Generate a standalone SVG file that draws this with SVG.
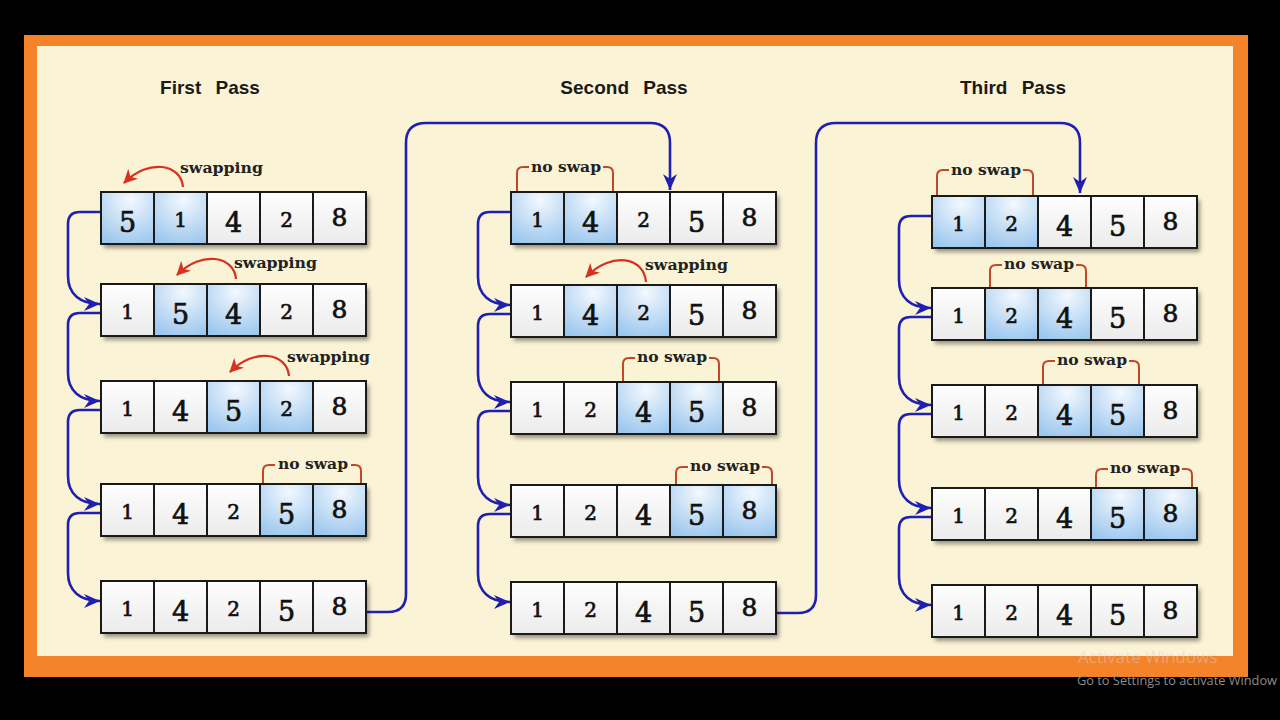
<svg xmlns="http://www.w3.org/2000/svg" width="1280" height="720" viewBox="0 0 1280 720">
<defs>
<style>
.c{fill:url(#gw);stroke:#1a1a1a;stroke-width:2}
.c.h{fill:url(#gb)}
.sh{fill:#fff;filter:url(#ds)}
.n{font-family:"DejaVu Serif","Liberation Serif",serif;fill:#111;stroke:#111;stroke-width:0.7;text-anchor:middle}
.s{font-size:20px}
.m{font-size:27px}
.e{font-size:25px}
.lbl{font-family:"DejaVu Serif","Liberation Serif",serif;font-weight:bold;font-size:15px;fill:#222}
.ttl{font-family:"Liberation Sans",Arial,sans-serif;font-weight:bold;font-size:19px;fill:#1a1a1a;text-anchor:middle;word-spacing:9px}
.red{fill:none;stroke:#d8311f;stroke-width:2.2;marker-end:url(#ra)}
.brk{fill:none;stroke:#c2462a;stroke-width:2}
.blue{fill:none;stroke:#1f1fb2;stroke-width:2.6;marker-end:url(#ba)}
</style>
<linearGradient id="gw" x1="0" y1="0" x2="0" y2="1"><stop offset="0" stop-color="#fefefe"/><stop offset="1" stop-color="#ebebeb"/></linearGradient>
<radialGradient id="gb" cx="0.55" cy="0.15" r="0.9"><stop offset="0" stop-color="#f3f8fe"/><stop offset="1" stop-color="#9cc7ee"/></radialGradient>
<filter id="ds" x="-10%" y="-20%" width="125%" height="150%"><feDropShadow dx="3" dy="4" stdDeviation="2" flood-color="#000" flood-opacity="0.4"/></filter>
<marker id="ra" markerUnits="userSpaceOnUse" markerWidth="16" markerHeight="14" refX="13" refY="7" orient="auto"><path d="M0,0 L14,7 L0,14 L4,7 z" fill="#d8311f"/></marker>
<marker id="ba" markerUnits="userSpaceOnUse" markerWidth="18" markerHeight="14" refX="16" refY="7" orient="auto"><path d="M0,0 L16,7 L0,14 L5,7 z" fill="#1f1fb2"/></marker>
</defs>
<rect width="1280" height="720" fill="#000"/>
<rect x="24" y="35" width="1224" height="642" fill="#f5832a"/>
<rect x="37" y="46" width="1196" height="610" fill="#fbf3d6"/>

<g id="titles">
<text class="ttl" x="210" y="94">First Pass</text>
<text class="ttl" x="624" y="94">Second Pass</text>
<text class="ttl" x="1013" y="94">Third Pass</text>
</g>

<g id="connectors">
<path class="blue" d="M101 212 H80 Q68 212 68 224 V276 C68 294 80 304 100 304"/>
<path class="blue" d="M101 313 H80 Q68 313 68 325 V373 C68 391 80 401 100 401"/>
<path class="blue" d="M101 410 H80 Q68 410 68 422 V476 C68 494 80 504 100 504"/>
<path class="blue" d="M101 513 H80 Q68 513 68 525 V573 C68 591 80 601 100 601"/>
<path class="blue" d="M511 212 H490 Q478 212 478 224 V277 C478 295 490 305 510 305"/>
<path class="blue" d="M511 314 H490 Q478 314 478 326 V374 C478 392 490 402 510 402"/>
<path class="blue" d="M511 411 H490 Q478 411 478 423 V477 C478 495 490 505 510 505"/>
<path class="blue" d="M511 514 H490 Q478 514 478 526 V574 C478 592 490 602 510 602"/>
<path class="blue" d="M932 216 H911 Q899 216 899 228 V280 C899 298 911 308 931 308"/>
<path class="blue" d="M932 317 H911 Q899 317 899 329 V377 C899 395 911 405 931 405"/>
<path class="blue" d="M932 414 H911 Q899 414 899 426 V480 C899 498 911 508 931 508"/>
<path class="blue" d="M932 517 H911 Q899 517 899 529 V577 C899 595 911 605 931 605"/>
<path class="blue" d="M366 612 H388 Q406 612 406 594 V143 Q406 123 426 123 H650 Q670 123 670 143 V190"/>
<path class="blue" d="M776 613 H798 Q816 613 816 595 V143 Q816 123 836 123 H1060 Q1080 123 1080 143 V193"/>
</g>

<!-- First pass -->
<g id="p1r1" transform="translate(101,192)">
<rect class="sh" width="265" height="52"/>
<rect class="c h" x="0" width="53" height="52"/><rect class="c h" x="53" width="53" height="52"/><rect class="c" x="106" width="53" height="52"/><rect class="c" x="159" width="53" height="52"/><rect class="c" x="212" width="53" height="52"/>
<text class="n m" x="26.5" y="40">5</text><text class="n s" x="79.5" y="35">1</text><text class="n m" x="132.5" y="40">4</text><text class="n s" x="185.5" y="35">2</text><text class="n e" x="238.5" y="34">8</text>
<path class="red" d="M82 -5 C80 -28 48 -34 23 -9"/>
<text class="lbl" x="79" y="-19" textLength="83" lengthAdjust="spacingAndGlyphs">swapping</text>
</g>
<g id="p1r2" transform="translate(101,284)">
<rect class="sh" width="265" height="52"/>
<rect class="c" x="0" width="53" height="52"/><rect class="c h" x="53" width="53" height="52"/><rect class="c h" x="106" width="53" height="52"/><rect class="c" x="159" width="53" height="52"/><rect class="c" x="212" width="53" height="52"/>
<text class="n s" x="26.5" y="35">1</text><text class="n m" x="79.5" y="40">5</text><text class="n m" x="132.5" y="40">4</text><text class="n s" x="185.5" y="35">2</text><text class="n e" x="238.5" y="34">8</text>
<path class="red" d="M135 -5 C133 -28 101 -34 76 -9"/>
<text class="lbl" x="133" y="-16" textLength="83" lengthAdjust="spacingAndGlyphs">swapping</text>
</g>
<g id="p1r3" transform="translate(101,381)">
<rect class="sh" width="265" height="52"/>
<rect class="c" x="0" width="53" height="52"/><rect class="c" x="53" width="53" height="52"/><rect class="c h" x="106" width="53" height="52"/><rect class="c h" x="159" width="53" height="52"/><rect class="c" x="212" width="53" height="52"/>
<text class="n s" x="26.5" y="35">1</text><text class="n m" x="79.5" y="40">4</text><text class="n m" x="132.5" y="40">5</text><text class="n s" x="185.5" y="35">2</text><text class="n e" x="238.5" y="34">8</text>
<path class="red" d="M188 -5 C186 -28 154 -34 129 -9"/>
<text class="lbl" x="186" y="-19" textLength="83" lengthAdjust="spacingAndGlyphs">swapping</text>
</g>
<g id="p1r4" transform="translate(101,484)">
<rect class="sh" width="265" height="52"/>
<rect class="c" x="0" width="53" height="52"/><rect class="c" x="53" width="53" height="52"/><rect class="c" x="106" width="53" height="52"/><rect class="c h" x="159" width="53" height="52"/><rect class="c h" x="212" width="53" height="52"/>
<text class="n s" x="26.5" y="35">1</text><text class="n m" x="79.5" y="40">4</text><text class="n s" x="132.5" y="35">2</text><text class="n m" x="185.5" y="40">5</text><text class="n e" x="238.5" y="34">8</text>
<path class="brk" d="M162 -1 V-13 Q162 -19 168 -19 H174 M250 -19 H254 Q260 -19 260 -13 V-1"/>
<text class="lbl" x="177" y="-15" textLength="70" lengthAdjust="spacingAndGlyphs">no swap</text>
</g>
<g id="p1r5" transform="translate(101,581)">
<rect class="sh" width="265" height="52"/>
<rect class="c" x="0" width="53" height="52"/><rect class="c" x="53" width="53" height="52"/><rect class="c" x="106" width="53" height="52"/><rect class="c" x="159" width="53" height="52"/><rect class="c" x="212" width="53" height="52"/>
<text class="n s" x="26.5" y="35">1</text><text class="n m" x="79.5" y="40">4</text><text class="n s" x="132.5" y="35">2</text><text class="n m" x="185.5" y="40">5</text><text class="n e" x="238.5" y="34">8</text>
</g>

<!-- Second pass -->
<g id="p2r1" transform="translate(511,192)">
<rect class="sh" width="265" height="52"/>
<rect class="c h" x="0" width="53" height="52"/><rect class="c h" x="53" width="53" height="52"/><rect class="c" x="106" width="53" height="52"/><rect class="c" x="159" width="53" height="52"/><rect class="c" x="212" width="53" height="52"/>
<text class="n s" x="26.5" y="35">1</text><text class="n m" x="79.5" y="40">4</text><text class="n s" x="132.5" y="35">2</text><text class="n m" x="185.5" y="40">5</text><text class="n e" x="238.5" y="34">8</text>
<path class="brk" d="M6 -1 V-19 Q6 -25 12 -25 H18 M92 -25 H96 Q102 -25 102 -19 V-1"/>
<text class="lbl" x="20" y="-20" textLength="70" lengthAdjust="spacingAndGlyphs">no swap</text>
</g>
<g id="p2r2" transform="translate(511,285)">
<rect class="sh" width="265" height="52"/>
<rect class="c" x="0" width="53" height="52"/><rect class="c h" x="53" width="53" height="52"/><rect class="c h" x="106" width="53" height="52"/><rect class="c" x="159" width="53" height="52"/><rect class="c" x="212" width="53" height="52"/>
<text class="n s" x="26.5" y="35">1</text><text class="n m" x="79.5" y="40">4</text><text class="n s" x="132.5" y="35">2</text><text class="n m" x="185.5" y="40">5</text><text class="n e" x="238.5" y="34">8</text>
<path class="red" d="M135 -3 C133 -28 101 -34 75 -8"/>
<text class="lbl" x="134" y="-15" textLength="83" lengthAdjust="spacingAndGlyphs">swapping</text>
</g>
<g id="p2r3" transform="translate(511,382)">
<rect class="sh" width="265" height="52"/>
<rect class="c" x="0" width="53" height="52"/><rect class="c" x="53" width="53" height="52"/><rect class="c h" x="106" width="53" height="52"/><rect class="c h" x="159" width="53" height="52"/><rect class="c" x="212" width="53" height="52"/>
<text class="n s" x="26.5" y="35">1</text><text class="n s" x="79.5" y="35">2</text><text class="n m" x="132.5" y="40">4</text><text class="n m" x="185.5" y="40">5</text><text class="n e" x="238.5" y="34">8</text>
<path class="brk" d="M112 -1 V-18 Q112 -24 118 -24 H124 M198 -24 H202 Q208 -24 208 -18 V-1"/>
<text class="lbl" x="126" y="-20" textLength="70" lengthAdjust="spacingAndGlyphs">no swap</text>
</g>
<g id="p2r4" transform="translate(511,485)">
<rect class="sh" width="265" height="52"/>
<rect class="c" x="0" width="53" height="52"/><rect class="c" x="53" width="53" height="52"/><rect class="c" x="106" width="53" height="52"/><rect class="c h" x="159" width="53" height="52"/><rect class="c h" x="212" width="53" height="52"/>
<text class="n s" x="26.5" y="35">1</text><text class="n s" x="79.5" y="35">2</text><text class="n m" x="132.5" y="40">4</text><text class="n m" x="185.5" y="40">5</text><text class="n e" x="238.5" y="34">8</text>
<path class="brk" d="M165 -1 V-12 Q165 -18 171 -18 H177 M251 -18 H255 Q261 -18 261 -12 V-1"/>
<text class="lbl" x="179" y="-14" textLength="70" lengthAdjust="spacingAndGlyphs">no swap</text>
</g>
<g id="p2r5" transform="translate(511,582)">
<rect class="sh" width="265" height="52"/>
<rect class="c" x="0" width="53" height="52"/><rect class="c" x="53" width="53" height="52"/><rect class="c" x="106" width="53" height="52"/><rect class="c" x="159" width="53" height="52"/><rect class="c" x="212" width="53" height="52"/>
<text class="n s" x="26.5" y="35">1</text><text class="n s" x="79.5" y="35">2</text><text class="n m" x="132.5" y="40">4</text><text class="n m" x="185.5" y="40">5</text><text class="n e" x="238.5" y="34">8</text>
</g>

<!-- Third pass -->
<g id="p3r1" transform="translate(932,196)">
<rect class="sh" width="265" height="52"/>
<rect class="c h" x="0" width="53" height="52"/><rect class="c h" x="53" width="53" height="52"/><rect class="c" x="106" width="53" height="52"/><rect class="c" x="159" width="53" height="52"/><rect class="c" x="212" width="53" height="52"/>
<text class="n s" x="26.5" y="35">1</text><text class="n s" x="79.5" y="35">2</text><text class="n m" x="132.5" y="40">4</text><text class="n m" x="185.5" y="40">5</text><text class="n e" x="238.5" y="34">8</text>
<path class="brk" d="M5 -1 V-20 Q5 -26 11 -26 H17 M91 -26 H95 Q101 -26 101 -20 V-1"/>
<text class="lbl" x="19" y="-21" textLength="70" lengthAdjust="spacingAndGlyphs">no swap</text>
</g>
<g id="p3r2" transform="translate(932,288)">
<rect class="sh" width="265" height="52"/>
<rect class="c" x="0" width="53" height="52"/><rect class="c h" x="53" width="53" height="52"/><rect class="c h" x="106" width="53" height="52"/><rect class="c" x="159" width="53" height="52"/><rect class="c" x="212" width="53" height="52"/>
<text class="n s" x="26.5" y="35">1</text><text class="n s" x="79.5" y="35">2</text><text class="n m" x="132.5" y="40">4</text><text class="n m" x="185.5" y="40">5</text><text class="n e" x="238.5" y="34">8</text>
<path class="brk" d="M58 -1 V-17 Q58 -23 64 -23 H70 M144 -23 H148 Q154 -23 154 -17 V-1"/>
<text class="lbl" x="72" y="-19" textLength="70" lengthAdjust="spacingAndGlyphs">no swap</text>
</g>
<g id="p3r3" transform="translate(932,385)">
<rect class="sh" width="265" height="52"/>
<rect class="c" x="0" width="53" height="52"/><rect class="c" x="53" width="53" height="52"/><rect class="c h" x="106" width="53" height="52"/><rect class="c h" x="159" width="53" height="52"/><rect class="c" x="212" width="53" height="52"/>
<text class="n s" x="26.5" y="35">1</text><text class="n s" x="79.5" y="35">2</text><text class="n m" x="132.5" y="40">4</text><text class="n m" x="185.5" y="40">5</text><text class="n e" x="238.5" y="34">8</text>
<path class="brk" d="M111 -1 V-18 Q111 -24 117 -24 H123 M197 -24 H201 Q207 -24 207 -18 V-1"/>
<text class="lbl" x="125" y="-20" textLength="70" lengthAdjust="spacingAndGlyphs">no swap</text>
</g>
<g id="p3r4" transform="translate(932,488)">
<rect class="sh" width="265" height="52"/>
<rect class="c" x="0" width="53" height="52"/><rect class="c" x="53" width="53" height="52"/><rect class="c" x="106" width="53" height="52"/><rect class="c h" x="159" width="53" height="52"/><rect class="c h" x="212" width="53" height="52"/>
<text class="n s" x="26.5" y="35">1</text><text class="n s" x="79.5" y="35">2</text><text class="n m" x="132.5" y="40">4</text><text class="n m" x="185.5" y="40">5</text><text class="n e" x="238.5" y="34">8</text>
<path class="brk" d="M164 -1 V-13 Q164 -19 170 -19 H176 M250 -19 H254 Q260 -19 260 -13 V-1"/>
<text class="lbl" x="178" y="-15" textLength="70" lengthAdjust="spacingAndGlyphs">no swap</text>
</g>
<g id="p3r5" transform="translate(932,585)">
<rect class="sh" width="265" height="52"/>
<rect class="c" x="0" width="53" height="52"/><rect class="c" x="53" width="53" height="52"/><rect class="c" x="106" width="53" height="52"/><rect class="c" x="159" width="53" height="52"/><rect class="c" x="212" width="53" height="52"/>
<text class="n s" x="26.5" y="35">1</text><text class="n s" x="79.5" y="35">2</text><text class="n m" x="132.5" y="40">4</text><text class="n m" x="185.5" y="40">5</text><text class="n e" x="238.5" y="34">8</text>
</g>

<g id="watermark" font-family="'Open Sans','Noto Sans',sans-serif">
<text x="1078" y="663" font-size="17" fill="#d0d0d0" fill-opacity="0.45">Activate Windows</text>
<text x="1077" y="685" font-size="13" fill="#8c8c8c" textLength="200" lengthAdjust="spacingAndGlyphs">Go to Settings to activate Window</text>
</g>
</svg>
